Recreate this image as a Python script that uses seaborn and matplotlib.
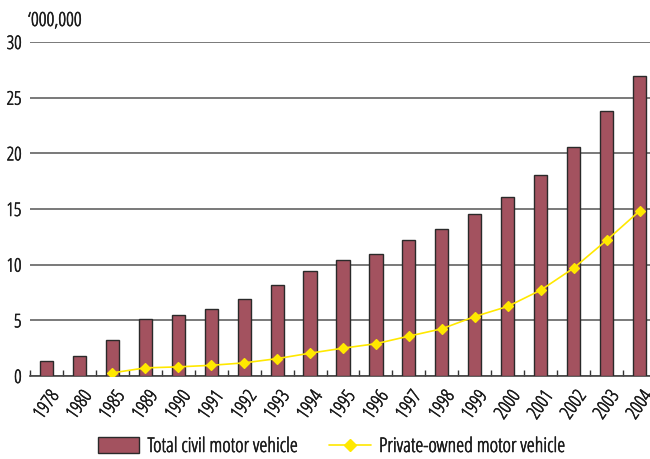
import matplotlib
matplotlib.use("Agg")
import matplotlib.pyplot as plt
import matplotlib.transforms as mtransforms
import matplotlib.patheffects as pe
from matplotlib.patches import Patch
from matplotlib.lines import Line2D
import numpy as np
import pandas as pd
import seaborn as sns

# Civil motor vehicles in millions
years = ["1978", "1980", "1985", "1989", "1990", "1991", "1992", "1993", "1994",
         "1995", "1996", "1997", "1998", "1999", "2000", "2001", "2002", "2003", "2004"]
total_civil = [1.36, 1.78, 3.21, 5.11, 5.51, 6.06, 6.92, 8.18, 9.42,
               10.40, 11.00, 12.19, 13.19, 14.53, 16.09, 18.02, 20.53, 23.83, 26.94]
private_owned = [np.nan, np.nan, 0.28, 0.73, 0.82, 0.96, 1.18, 1.56, 2.05,
                 2.50, 2.90, 3.58, 4.24, 5.34, 6.25, 7.71, 9.69, 12.19, 14.82]
y_ticks = [0, 5, 10, 15, 20, 25, 30]

bar_label = "Total civil motor vehicle"
line_label = "Private-owned motor vehicle"
unit_label = "\u2018000,000"

bar_color = "#A3525F"
line_color = "#FFE800"
text_color = "#1a1a1a"
fs = 13.5
legend_fs = 14.6
# slight outline so the light condensed face reads as regular weight
heavier = [pe.withStroke(linewidth=0.4, foreground=text_color)]

df = pd.DataFrame({"year": years, "total": total_civil, "private": private_owned})

sns.set_theme(style="white")
plt.rcParams["font.family"] = ["Open Sans", "DejaVu Sans"]
plt.rcParams["font.stretch"] = "condensed"

fig = plt.figure(figsize=(6.5, 4.6), dpi=100)
ax = fig.add_axes([30 / 650, 83 / 460, 626 / 650, 334 / 460])

sns.barplot(data=df, x="year", y="total", order=years, color=bar_color,
            width=0.4, edgecolor="#2a2a2a", linewidth=1.0, saturation=1,
            ax=ax, zorder=3)
sns.pointplot(data=df, x="year", y="private", order=years, color=line_color,
              markers="D", linestyles="-", markersize=5.5, linewidth=1.2,
              errorbar=None, ax=ax, zorder=4)

ax.set_xlim(-0.5, len(years) - 0.5)
ax.set_ylim(0, 30)
ax.set_yticks(y_ticks)
ax.set_yticklabels([str(v) for v in y_ticks], fontsize=fs, color=text_color)
ax.yaxis.grid(True, color="#555555", linewidth=1.1)
ax.set_axisbelow(True)
ax.tick_params(axis="y", length=0, pad=6)

ax.set_xticks(range(len(years)))
ax.set_xticklabels(years, rotation=55, ha="right", va="center",
                   rotation_mode="anchor", fontsize=fs, color=text_color)
ax.tick_params(axis="x", which="major", length=0, pad=12)
shift = mtransforms.ScaledTranslation(9 / 100, 0, fig.dpi_scale_trans)
for lbl in ax.get_xticklabels():
    lbl.set_transform(lbl.get_transform() + shift)
ax.set_xticks(np.arange(-0.5, len(years), 1.0), minor=True)
ax.tick_params(axis="x", which="minor", direction="in", length=4.5,
               width=1.0, color="#333333", bottom=True)
for lbl in ax.get_xticklabels() + ax.get_yticklabels():
    lbl.set_path_effects(heavier)

for side in ["top", "right", "left"]:
    ax.spines[side].set_visible(False)
ax.spines["bottom"].set_color("#444444")
ax.spines["bottom"].set_linewidth(1.2)
ax.set_xlabel("")
ax.set_ylabel("")

fig.text(28 / 650, 1 - 22 / 460, unit_label, fontsize=fs + 0.5, color=text_color,
         ha="left", va="center", path_effects=heavier)

handles = [Patch(facecolor=bar_color, edgecolor="#2a2a2a", linewidth=1.0),
           Line2D([0], [0], color=line_color, marker="D", markersize=6, linewidth=1.2)]
leg = fig.legend(handles, [bar_label, line_label], loc="center",
                 bbox_to_anchor=(331 / 650, 12 / 460), ncol=2, frameon=False,
                 fontsize=legend_fs, handlelength=2.05, handleheight=0.8,
                 handletextpad=0.4, columnspacing=1.6)
for t in leg.get_texts():
    t.set_color(text_color)
    t.set_path_effects(heavier)

fig.savefig("out.png", dpi=100)
